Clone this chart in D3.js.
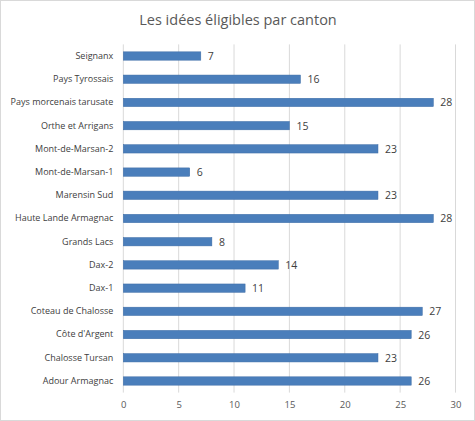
<!DOCTYPE html>
<html>
<head>
<meta charset="utf-8">
<script src="https://cdn.jsdelivr.net/npm/d3@7"></script>
<style>
  body { margin: 0; background: #fff; }
  text { font-family: "Open Sans", "Noto Sans", sans-serif; }
</style>
</head>
<body>
<svg id="chart"></svg>
<script>
var cantons = ['Seignanx', 'Pays Tyrossais', 'Pays morcenais tarusate', 'Orthe et Arrigans',
  'Mont-de-Marsan-2', 'Mont-de-Marsan-1', 'Marensin Sud', 'Haute Lande Armagnac',
  'Grands Lacs', 'Dax-2', 'Dax-1', 'Coteau de Chalosse', "Côte d'Argent",
  'Chalosse Tursan', 'Adour Armagnac'];
var idees = [7, 16, 28, 15, 23, 6, 23, 28, 8, 14, 11, 27, 26, 23, 26];
var ticks = [0, 5, 10, 15, 20, 25, 30];

var width = 475, height = 421;
var plotLeft = 123.3, plotRight = 455.5, plotTop = 44.4, plotBottom = 392.6;

var svg = d3.select('#chart')
  .attr('width', width)
  .attr('height', height);

svg.append('rect')
  .attr('x', 0.5).attr('y', 0.5)
  .attr('width', width - 1).attr('height', height - 1)
  .attr('fill', '#fff')
  .attr('stroke', '#d9d9d9');

svg.append('text')
  .attr('x', 238)
  .attr('y', 25)
  .attr('text-anchor', 'middle')
  .attr('font-size', 14.5)
  .attr('fill', '#595959')
  .text('Les idées éligibles par canton');

var x = d3.scaleLinear().domain([0, 30]).range([plotLeft, plotRight]);
var y = d3.scaleBand().domain(cantons).range([plotTop, plotBottom]).paddingInner(0.64).paddingOuter(0.32);

// grid
svg.selectAll('line.grid')
  .data(ticks)
  .enter()
  .append('line')
  .attr('class', 'grid')
  .attr('x1', function(d) { return x(d); })
  .attr('x2', function(d) { return x(d); })
  .attr('y1', plotTop)
  .attr('y2', plotBottom)
  .attr('stroke', '#d9d9d9')
  .attr('stroke-width', 1);

var xAxis = svg.append('g')
  .attr('transform', 'translate(0,' + plotBottom + ')')
  .call(d3.axisBottom(x).tickValues(ticks).tickSize(0).tickPadding(9));
xAxis.select('.domain').remove();
xAxis.selectAll('text')
  .attr('font-size', 9.5)
  .attr('fill', '#595959')
  .style('font-family', '"Open Sans", "Noto Sans", sans-serif');

var yAxis = svg.append('g')
  .attr('transform', 'translate(' + plotLeft + ',0)')
  .call(d3.axisLeft(y).tickSize(0).tickPadding(10));
yAxis.select('.domain').remove();
yAxis.selectAll('text')
  .attr('font-size', 9)
  .attr('fill', '#404040')
  .style('font-family', '"Open Sans", "Noto Sans", sans-serif');

svg.selectAll('rect.bar')
  .data(idees)
  .enter()
  .append('rect')
  .attr('class', 'bar')
  .attr('x', x(0))
  .attr('y', function(d, i) { return y(cantons[i]); })
  .attr('width', function(d) { return x(d) - x(0); })
  .attr('height', y.bandwidth())
  .attr('fill', '#4a7ebb')
  .attr('stroke', '#3d6ca6')
  .attr('stroke-width', 0.5);

svg.selectAll('text.val')
  .data(idees)
  .enter()
  .append('text')
  .attr('class', 'val')
  .attr('x', function(d) { return x(d) + 7; })
  .attr('y', function(d, i) { return y(cantons[i]) + y.bandwidth() / 2; })
  .attr('dy', '0.38em')
  .attr('font-size', 10.5)
  .attr('fill', '#404040')
  .text(function(d) { return d; });
</script>
</body>
</html>
